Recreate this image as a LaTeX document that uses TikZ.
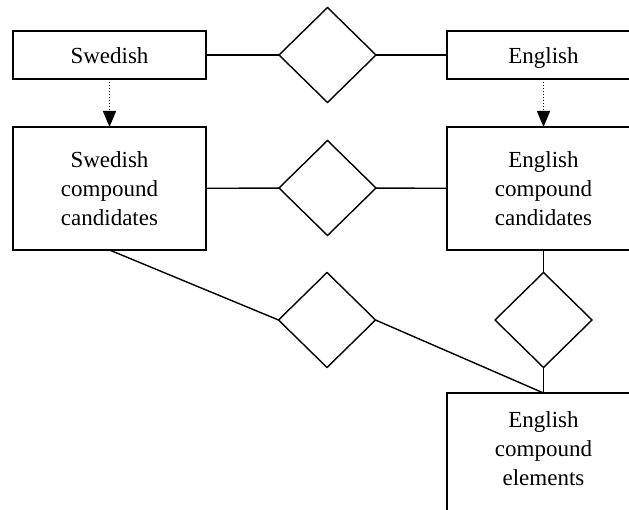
\documentclass[tikz,border=0pt]{standalone}
\usepackage{fontspec}
\setmainfont{Liberation Serif}
\usetikzlibrary{shapes.geometric,arrows.meta}
\tikzset{
    entity/.style={draw, line width=1.9pt, minimum width=193pt, align=center, inner sep=0pt, outer sep=0pt,
        font=\fontsize{23}{29}\selectfont},
    single/.style={entity, minimum height=48pt, text height=22pt, text depth=4pt},
    relation/.style={draw, diamond, line width=1.4pt, minimum width=97pt, minimum height=95pt, inner sep=0pt, outer sep=0pt},
    link/.style={line width=1.4pt},
    derive/.style={line width=1.5pt, dash pattern=on 1.5pt off 1.5pt, -{Triangle[width=13pt,length=16pt]}}
}
\begin{document}
\begin{tikzpicture}[x=1pt, y=-1pt]
        \useasboundingbox (0, 0) rectangle (629, 510);
        \clip (0, 0) rectangle (629, 510);
        % first row
        \node[single] (swe) at (109.5, 55) {Swedish};
        \node[relation] (rel1) at (327.5, 55) {};
        \node[single] (eng) at (543.5, 55) {English};
        % second row
        \node[entity, minimum height=123pt] (swecc) at (109.5, 188.5) {Swedish\\compound\\candidates};
        \node[relation] (rel2) at (327.5, 188) {};
        \node[entity, minimum height=123pt] (engcc) at (543.5, 188.5) {English\\compound\\candidates};
        % third row
        \node[relation] (rel3) at (327, 320) {};
        \node[relation] (rel4) at (543.5, 320) {};
        \node[entity, minimum height=123pt, text depth=11pt] (engce) at (543.5, 454.5) {English\\compound\\elements};
        \draw[link] (swe) -- (rel1) -- (eng);
        \draw[link] (swecc) -- (rel2) -- (engcc);
        \draw[derive] (swe) -- (swecc);
        \draw[derive] (eng) -- (engcc);
        \draw[link] (swecc.south) -- (rel3.west);
        \draw[link] (rel3.east) -- (engce.north);
        \draw[link] (engcc) -- (rel4) -- (engce);
    \end{tikzpicture}
\end{document}
